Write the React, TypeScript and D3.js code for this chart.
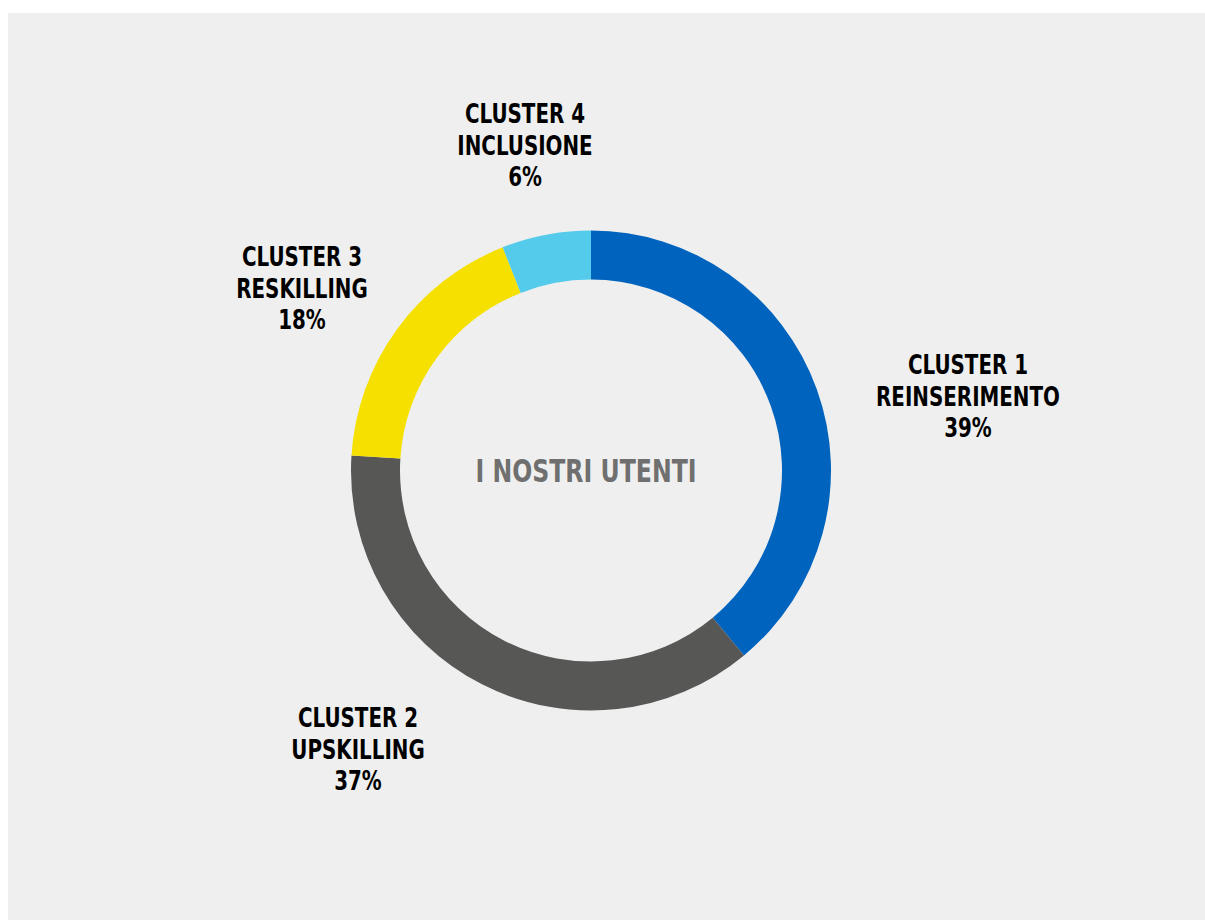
import React from "react";
import * as d3 from "d3";

const categories = ["CLUSTER 1", "CLUSTER 2", "CLUSTER 3", "CLUSTER 4"];
const subtitles = ["REINSERIMENTO", "UPSKILLING", "RESKILLING", "INCLUSIONE"];
const values = [39, 37, 18, 6];
const colors = ["#0063BD", "#575756", "#F6E000", "#55CBEC"];
// label anchor offsets from the donut centre (layout, not data)
const labelOffsets: [number, number][] = [
  [377, -74],
  [-233, 279],
  [-289, -182],
  [-66, -325],
];

const W = 1205;
const H = 922;
const cx = 591;
const cy = 470.5;
const outerR = 240;
const innerR = 191;
const FONT = "'Liberation Sans Narrow', 'DejaVu Sans Condensed', 'Open Sans', sans-serif";

export default function App() {
  const pie = d3.pie<number>().value((d) => d).sort(null);
  const arcs = pie(values);
  const arcGen = d3.arc<d3.PieArcDatum<number>>().innerRadius(innerR).outerRadius(outerR);
  const lineH = 32;
  return (
    <svg width={W} height={H} style={{ position: "absolute", left: 0, top: 0 }}>
      <rect x={8} y={13} width={W - 8} height={907} fill="#EFEFEF" />
      <g transform={`translate(${cx},${cy})`}>
        {arcs.map((a, i) => (
          <path key={i} d={arcGen(a) || ""} fill={colors[i]} />
        ))}
        <g transform="translate(-5,0) scale(0.82,1)">
          <text
            x={0}
            y={11}
            textAnchor="middle"
            fontFamily={FONT}
            fontWeight="bold"
            fontSize={32}
            fill="#6F6F6F"
          >
            I NOSTRI UTENTI
          </text>
        </g>
        {arcs.map((a, i) => {
          const [dx, dy] = labelOffsets[i];
          const lines = [categories[i], subtitles[i], `${values[i]}%`];
          return (
            <g key={"l" + i} transform={`translate(${dx},${dy}) scale(0.85,1)`}>
              <text textAnchor="middle" fontFamily={FONT} fontWeight="bold" fontSize={26} fill="#000">
                {lines.map((t, j) => (
                  <tspan key={j} x={0} y={(j - 1) * lineH + 9}>
                    {t}
                  </tspan>
                ))}
              </text>
            </g>
          );
        })}
      </g>
    </svg>
  );
}
